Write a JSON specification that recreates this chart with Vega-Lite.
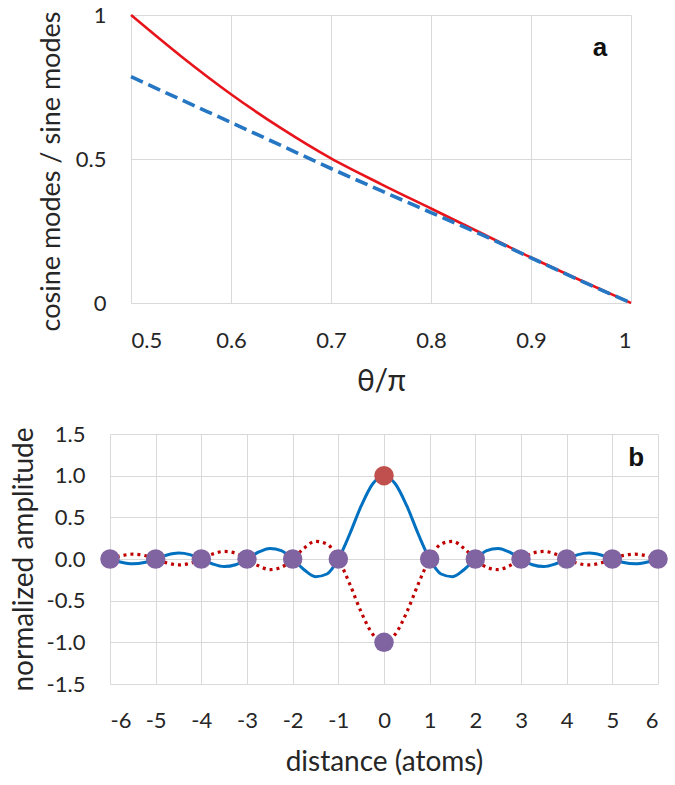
{
  "$schema": "https://vega.github.io/schema/vega-lite/v6.json",
  "background": "white",
  "padding": {"left": 10, "top": 4, "right": 5, "bottom": 5},
  "config": {
    "view": {"stroke": null},
    "font": "Lato",
    "axis": {
      "grid": true,
      "gridColor": "#d9d9d9",
      "gridWidth": 1,
      "domain": false,
      "ticks": false,
      "labelFont": "Lato",
      "labelFontSize": 22,
      "labelColor": "#262626",
      "titleFont": "Lato",
      "titleFontSize": 28,
      "titleFontWeight": "normal",
      "titleColor": "#262626"
    }
  },
  "datasets": {
    "ratio": [
      {"theta": 0.50, "cosine_over_sine_1": 1.000, "cosine_over_sine_2": 0.786},
      {"theta": 0.55, "cosine_over_sine_1": 0.857, "cosine_over_sine_2": 0.706},
      {"theta": 0.60, "cosine_over_sine_1": 0.725, "cosine_over_sine_2": 0.627},
      {"theta": 0.65, "cosine_over_sine_1": 0.607, "cosine_over_sine_2": 0.547},
      {"theta": 0.70, "cosine_over_sine_1": 0.502, "cosine_over_sine_2": 0.467},
      {"theta": 0.75, "cosine_over_sine_1": 0.413, "cosine_over_sine_2": 0.390},
      {"theta": 0.80, "cosine_over_sine_1": 0.328, "cosine_over_sine_2": 0.314},
      {"theta": 0.85, "cosine_over_sine_1": 0.243, "cosine_over_sine_2": 0.238},
      {"theta": 0.90, "cosine_over_sine_1": 0.158, "cosine_over_sine_2": 0.157},
      {"theta": 0.95, "cosine_over_sine_1": 0.078, "cosine_over_sine_2": 0.077},
      {"theta": 1.00, "cosine_over_sine_1": 0.000, "cosine_over_sine_2": 0.000}
    ],
    "wave": [
      {"distance": -6.00, "mode1": 0.0000, "mode2": 0.0000},
      {"distance": -5.75, "mode1": -0.0391, "mode2": 0.0391},
      {"distance": -5.50, "mode1": -0.0579, "mode2": 0.0579},
      {"distance": -5.25, "mode1": -0.0429, "mode2": 0.0429},
      {"distance": -5.00, "mode1": 0.0000, "mode2": 0.0000},
      {"distance": -4.75, "mode1": 0.0474, "mode2": -0.0474},
      {"distance": -4.50, "mode1": 0.0707, "mode2": -0.0707},
      {"distance": -4.25, "mode1": 0.0530, "mode2": -0.0530},
      {"distance": -4.00, "mode1": 0.0000, "mode2": 0.0000},
      {"distance": -3.75, "mode1": -0.0600, "mode2": 0.0600},
      {"distance": -3.50, "mode1": -0.0909, "mode2": 0.0909},
      {"distance": -3.25, "mode1": -0.0693, "mode2": 0.0693},
      {"distance": -3.00, "mode1": 0.0000, "mode2": 0.0000},
      {"distance": -2.75, "mode1": 0.0818, "mode2": -0.0818},
      {"distance": -2.50, "mode1": 0.1273, "mode2": -0.1273},
      {"distance": -2.25, "mode1": 0.1000, "mode2": -0.1000},
      {"distance": -2.00, "mode1": 0.0000, "mode2": 0.0000},
      {"distance": -1.75, "mode1": -0.1286, "mode2": 0.1286},
      {"distance": -1.50, "mode1": -0.2122, "mode2": 0.2122},
      {"distance": -1.25, "mode1": -0.1801, "mode2": 0.1801},
      {"distance": -1.00, "mode1": 0.0000, "mode2": 0.0000},
      {"distance": -0.75, "mode1": 0.3001, "mode2": -0.3001},
      {"distance": -0.50, "mode1": 0.6366, "mode2": -0.6366},
      {"distance": -0.25, "mode1": 0.9003, "mode2": -0.9003},
      {"distance": 0.00, "mode1": 1.0000, "mode2": -1.0000},
      {"distance": 0.25, "mode1": 0.9003, "mode2": -0.9003},
      {"distance": 0.50, "mode1": 0.6366, "mode2": -0.6366},
      {"distance": 0.75, "mode1": 0.3001, "mode2": -0.3001},
      {"distance": 1.00, "mode1": 0.0000, "mode2": 0.0000},
      {"distance": 1.25, "mode1": -0.1801, "mode2": 0.1801},
      {"distance": 1.50, "mode1": -0.2122, "mode2": 0.2122},
      {"distance": 1.75, "mode1": -0.1286, "mode2": 0.1286},
      {"distance": 2.00, "mode1": 0.0000, "mode2": 0.0000},
      {"distance": 2.25, "mode1": 0.1000, "mode2": -0.1000},
      {"distance": 2.50, "mode1": 0.1273, "mode2": -0.1273},
      {"distance": 2.75, "mode1": 0.0818, "mode2": -0.0818},
      {"distance": 3.00, "mode1": 0.0000, "mode2": 0.0000},
      {"distance": 3.25, "mode1": -0.0693, "mode2": 0.0693},
      {"distance": 3.50, "mode1": -0.0909, "mode2": 0.0909},
      {"distance": 3.75, "mode1": -0.0600, "mode2": 0.0600},
      {"distance": 4.00, "mode1": 0.0000, "mode2": 0.0000},
      {"distance": 4.25, "mode1": 0.0530, "mode2": -0.0530},
      {"distance": 4.50, "mode1": 0.0707, "mode2": -0.0707},
      {"distance": 4.75, "mode1": 0.0474, "mode2": -0.0474},
      {"distance": 5.00, "mode1": 0.0000, "mode2": 0.0000},
      {"distance": 5.25, "mode1": -0.0429, "mode2": 0.0429},
      {"distance": 5.50, "mode1": -0.0579, "mode2": 0.0579},
      {"distance": 5.75, "mode1": -0.0391, "mode2": 0.0391},
      {"distance": 6.00, "mode1": 0.0000, "mode2": 0.0000}
    ],
    "atoms": [
      {"distance": -6, "amplitude": 0, "kind": "atom"},
      {"distance": -5, "amplitude": 0, "kind": "atom"},
      {"distance": -4, "amplitude": 0, "kind": "atom"},
      {"distance": -3, "amplitude": 0, "kind": "atom"},
      {"distance": -2, "amplitude": 0, "kind": "atom"},
      {"distance": -1, "amplitude": 0, "kind": "atom"},
      {"distance": 0, "amplitude": -1, "kind": "atom"},
      {"distance": 1, "amplitude": 0, "kind": "atom"},
      {"distance": 2, "amplitude": 0, "kind": "atom"},
      {"distance": 3, "amplitude": 0, "kind": "atom"},
      {"distance": 4, "amplitude": 0, "kind": "atom"},
      {"distance": 5, "amplitude": 0, "kind": "atom"},
      {"distance": 6, "amplitude": 0, "kind": "atom"},
      {"distance": 0, "amplitude": 1, "kind": "peak"}
    ]
  },
  "spacing": 27,
  "vconcat": [
    {
      "bounds": "flush",
      "spacing": 0,
      "hconcat": [
        {
          "width": 21,
          "height": 20,
          "data": {"values": [{"t": ""}]},
          "mark": {"type": "text"},
          "encoding": {"text": {"field": "t"}}
        },
        {
          "width": 500,
          "height": 288,
          "data": {"name": "ratio"},
          "encoding": {
            "x": {
              "field": "theta",
              "type": "quantitative",
              "scale": {"domain": [0.5, 1], "nice": false, "zero": false},
              "axis": {
                "title": "θ/π",
                "values": [0.5, 0.6, 0.7, 0.8, 0.9, 1],
                "format": "~g",
                "labelPadding": 27,
                "titlePadding": 15,
                "titleFontSize": 30
              }
            }
          },
          "layer": [
            {
              "mark": {"type": "line", "color": "#e8141c", "strokeWidth": 2.6, "interpolate": "monotone"},
              "encoding": {
                "y": {
                  "field": "cosine_over_sine_1",
                  "type": "quantitative",
                  "scale": {"domain": [0, 1], "nice": false},
                  "axis": {
                    "title": "cosine modes / sine modes",
                    "values": [0, 0.5, 1],
                    "format": "~g",
                    "labelPadding": 25,
                    "titlePadding": 10,
                    "titleFontSize": 27,
                    "titleY": 156
                  }
                }
              }
            },
            {
              "mark": {"type": "line", "color": "#2576c3", "strokeWidth": 3.6, "strokeDash": [13, 6], "interpolate": "monotone"},
              "encoding": {
                "y": {"field": "cosine_over_sine_2", "type": "quantitative"}
              }
            },
            {
              "data": {"values": [{"theta": 0.969, "cosine_over_sine_1": 0.885, "label": "a"}]},
              "mark": {"type": "text", "font": "Liberation Sans", "fontWeight": "bold", "fontSize": 26, "color": "#111", "align": "center", "baseline": "middle"},
              "encoding": {
                "y": {"field": "cosine_over_sine_1", "type": "quantitative"},
                "text": {"field": "label"}
              }
            }
          ]
        }
      ]
    },
    {
      "width": 548,
      "height": 250,
      "encoding": {
        "x": {
          "field": "distance",
          "type": "quantitative",
          "scale": {"domain": [-6, 6], "nice": false},
          "axis": {
            "title": "distance (atoms)",
            "values": [-6, -5, -4, -3, -2, -1, 0, 1, 2, 3, 4, 5, 6],
            "labelExpr": "(datum.value < 0 ? '-' : '') + abs(datum.value)",
            "labelPadding": 26,
            "titlePadding": 17
          }
        }
      },
      "layer": [
        {
          "data": {"name": "wave"},
          "mark": {"type": "line", "color": "#0070c0", "strokeWidth": 3, "interpolate": "monotone"},
          "encoding": {
            "y": {
              "field": "mode1",
              "type": "quantitative",
              "scale": {"domain": [-1.5, 1.5], "nice": false},
              "axis": {
                "title": "normalized amplitude",
                "values": [-1.5, -1, -0.5, 0, 0.5, 1, 1.5],
                "labelExpr": "(datum.value < 0 ? '-' : '') + format(abs(datum.value), '.1f')",
                "labelPadding": 25,
                "titlePadding": 8
              }
            }
          }
        },
        {
          "data": {"name": "wave"},
          "mark": {"type": "line", "color": "#c00000", "strokeWidth": 3.2, "strokeDash": [3, 4], "interpolate": "monotone"},
          "encoding": {
            "y": {"field": "mode2", "type": "quantitative"}
          }
        },
        {
          "data": {"name": "atoms"},
          "mark": {"type": "point", "filled": true, "opacity": 1, "size": 380, "shape": "circle"},
          "encoding": {
            "y": {"field": "amplitude", "type": "quantitative"},
            "color": {
              "field": "kind",
              "type": "nominal",
              "scale": {"domain": ["atom", "peak"], "range": ["#8064a2", "#c0504d"]},
              "legend": null
            }
          }
        },
        {
          "data": {"values": [{"distance": 5.52, "amplitude": 1.216, "label": "b"}]},
          "mark": {"type": "text", "font": "Liberation Sans", "fontWeight": "bold", "fontSize": 26, "color": "#111", "align": "center", "baseline": "middle"},
          "encoding": {
            "y": {"field": "amplitude", "type": "quantitative"},
            "text": {"field": "label"}
          }
        }
      ]
    }
  ]
}
